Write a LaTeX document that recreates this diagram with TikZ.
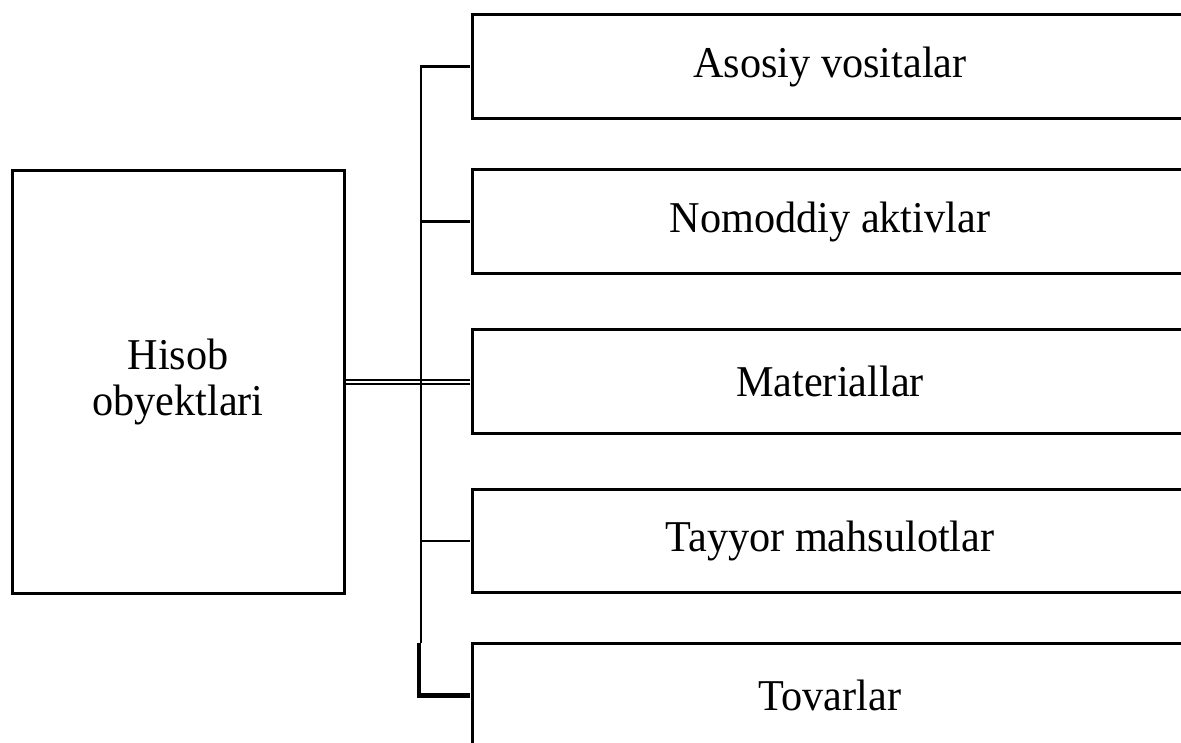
\documentclass[tikz,border=0pt]{standalone}
\usepackage{fontspec}
\setmainfont{Liberation Serif}[FakeStretch=0.96]
\begin{document}
\begin{tikzpicture}[x=1pt,y=-1pt,
  box/.style={rectangle, inner sep=0pt, align=center,
    font=\fontsize{44}{46}\selectfont},
  boxline/.style={draw, line width=3pt},
  itembox/.style={box, minimum width=714pt, minimum height=103pt},
  branch/.style={draw, line width=2.5pt, shorten >=3pt},
  spineline/.style={draw, line width=2.5pt},
  thickline/.style={draw, line width=4.5pt},
  dbl/.style={draw, double, double distance=2pt, line width=2pt}]
\useasboundingbox (0,0) rectangle (1181,742);
\clip (0,0) rectangle (1181,742);
\node[box, draw, line width=3pt, minimum width=332pt, minimum height=423pt] (L) at (178,381.5) {Hisob\\obyektlari};
\node[itembox] (b1) at (830,66.5) {Asosiy vositalar};
\node[itembox] (b2) at (830,221.5) {Nomoddiy aktivlar};
\node[itembox] (b3) at (830,381.5) {Materiallar};
\node[itembox] (b4) at (830,541) {Tayyor mahsulotlar};
\node[itembox] (b5) at (830,695.5) {Tovarlar};
\foreach \b in {b1,b2,b3,b4,b5}
  \draw[boxline] ([xshift=40pt]\b.north east) -- (\b.north west) -- (\b.south west) -- ([xshift=40pt]\b.south east);
\coordinate (sp) at (421,0);
\coordinate (spb) at (421,643);
\coordinate (tk) at (419,643);
\draw[dbl, shorten >=3pt] (L.east) -- (b3.west);
\draw[spineline] (b1.west) ++(-3pt,0) -- (sp |- b1.west) -- (spb);
\draw[branch] (sp |- b2.west) -- (b2.west);
\draw[branch] (sp |- b4.west) -- (b4.west);
\draw[thickline] (tk) -- (tk |- b5.west) -- ([xshift=-3pt]b5.west);
\end{tikzpicture}
\end{document}
